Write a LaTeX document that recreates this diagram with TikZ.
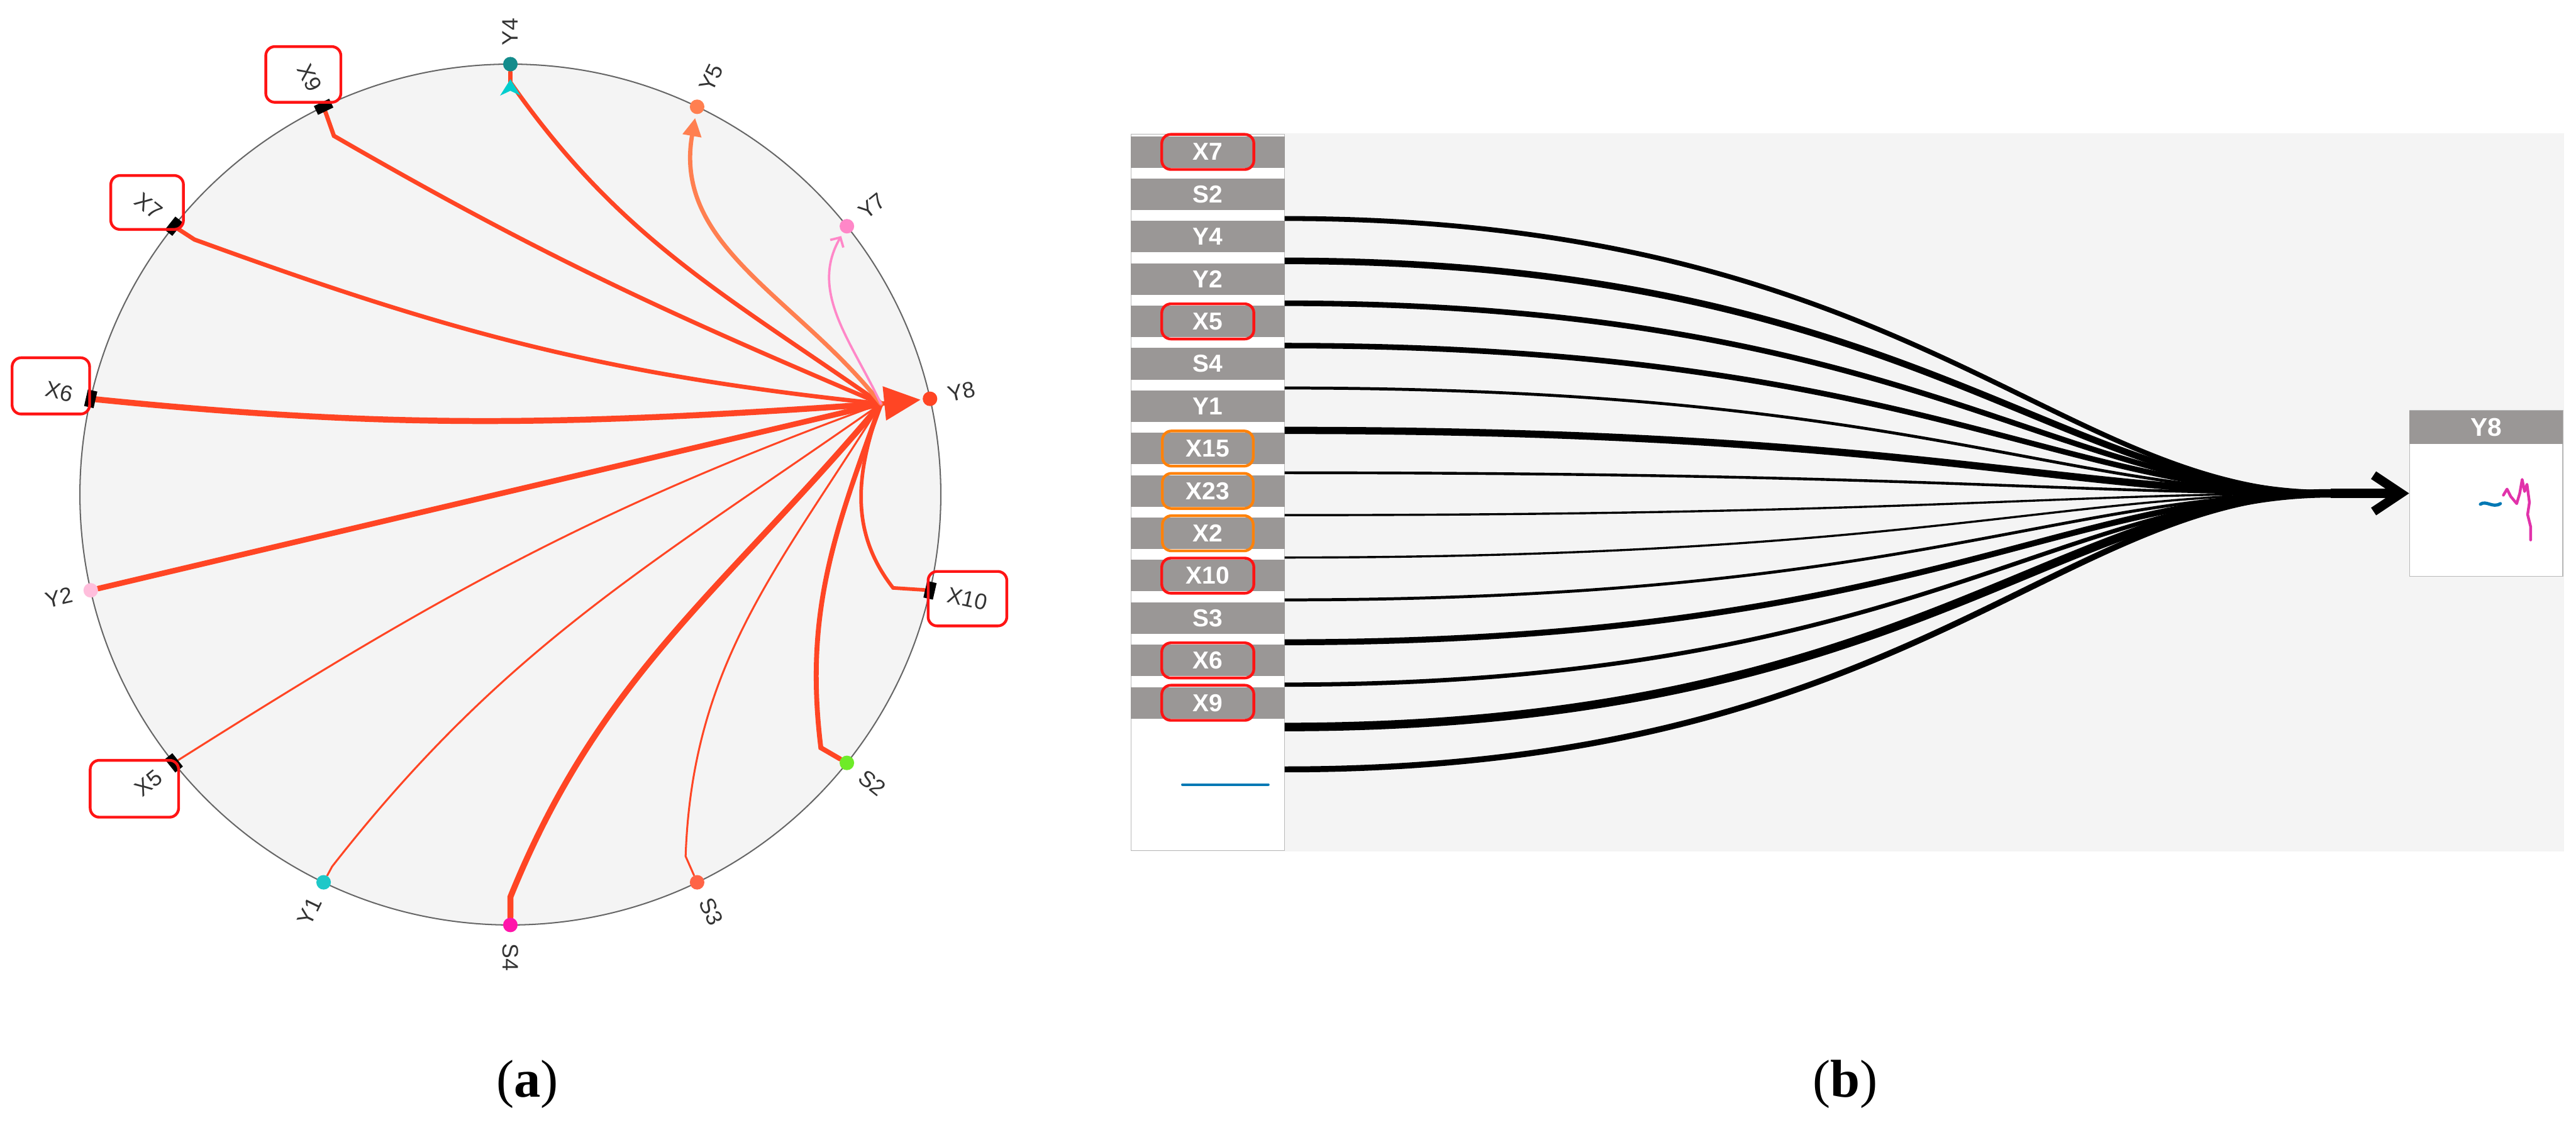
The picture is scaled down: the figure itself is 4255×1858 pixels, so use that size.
\documentclass[tikz,border=0pt]{standalone}
\usepackage{fontspec}
\setmainfont{Liberation Serif}
\newfontfamily\sansfont{Liberation Sans}
\usetikzlibrary{arrows.meta,backgrounds}

\definecolor{linkred}{RGB}{255,69,36}
\definecolor{circbg}{RGB}{244,244,244}
\definecolor{panelbg}{RGB}{244,244,244}
\definecolor{bargray}{RGB}{154,151,150}
\definecolor{colframe}{RGB}{185,185,185}
\definecolor{hlred}{RGB}{255,20,20}
\definecolor{hlorange}{RGB}{255,130,10}
\definecolor{cyfour}{RGB}{20,140,140}
\definecolor{tipcyan}{RGB}{0,205,205}
\definecolor{cyfive}{RGB}{255,127,80}
\definecolor{cyseven}{RGB}{255,135,200}
\definecolor{csii}{RGB}{110,235,40}
\definecolor{csiii}{RGB}{255,100,70}
\definecolor{csiv}{RGB}{255,20,170}
\definecolor{cyone}{RGB}{30,200,200}
\definecolor{cytwo}{RGB}{255,190,220}
\definecolor{sparkblue}{RGB}{0,120,180}
\definecolor{sparkpink}{RGB}{225,50,170}

\begin{document}
\begin{tikzpicture}[x=0.01cm, y=0.01cm, >=Stealth,
    dot/.style={circle, inner sep=0pt, minimum size=0.24cm},
    sq/.style={rectangle, fill=black, inner sep=0pt, minimum width=0.16cm, minimum height=0.28cm},
    lbl/.style={font=\sansfont\fontsize{10.5}{12}\selectfont, text=black!80, inner sep=0pt},
    link/.style={draw=linkred, line cap=round},
    hlbox/.style={draw=hlred, line width=1.3pt, rounded corners=0.15cm},
    bar/.style={fill=bargray, minimum width=2.54cm, minimum height=0.52cm, inner sep=0pt,
                text=white, font=\sansfont\bfseries\fontsize{11.5}{12}\selectfont},
    flow/.style={draw=black}]

    \useasboundingbox (0,0) rectangle (4255,1858);
    \begin{scope}[on background layer]
        \fill[white] (0,0) rectangle (4255,1858);
    \end{scope}

    % Pannello (a): grafo circolare
    \begin{scope}[shift={(843,1041)}]
        \begin{scope}[on background layer]
            \fill[circbg] (0,0) circle (711);
            \draw[black!60, line width=0.6pt] (0,0) circle (711);
        \end{scope}

        % Nodi colorati
        \foreach \n/\k/\c in {Y4/0/cyfour, Y5/1/cyfive, Y7/2/cyseven, Y8/3/linkred, S2/5/csii,
                              S3/6/csiii, S4/7/csiv, Y1/8/cyone, Y2/10/cytwo}
            \node[dot, fill=\c] (\n) at ({90-\k*360/14}:711) {};
        % Nodi quadrati
        \foreach \n/\k in {X10/4, X5/9, X6/11, X7/12, X9/13}
            \node[sq, rotate={90-\k*360/14}] (\n) at ({90-\k*360/14}:711) {};

        % Etichette radiali
        \foreach \n/\k in {Y4/0, Y5/1, Y7/2, Y8/3, X10/4, S2/5, S3/6, S4/7,
                           Y1/8, X5/9, Y2/10, X6/11, X7/12, X9/13} {
            \pgfmathsetmacro\a{90-\k*360/14}
            \ifnum\k<8
                \node[lbl, rotate=\a, anchor=west] at (\a:741) {\n};
            \else
                \pgfmathsetmacro\b{\a+180}
                \node[lbl, rotate=\b, anchor=east] at (\a:741) {\n};
            \fi
        }

        \coordinate (hub) at (612,150);

        % Archi verso Y8
        \begin{scope}[on background layer]
            \draw[link, line width=2pt] (X9) -- ++(17,-48) to[out=-30,in=157] (hub);
            \draw[link, line width=2pt] (Y4) -- ++(0,-30) to[out=-55,in=145] (hub);
            \draw[link, line width=2pt] (X7) -- ++(34,-22) to[out=-20,in=174] (hub);
            \draw[link, line width=2.8pt] (X6) to[out=-6,in=184] (hub);
            \draw[link, line width=2.6pt] (Y2) -- (hub);
            \draw[link, line width=0.9pt] (X5) to[out=33,in=200] (hub);
            \draw[link, line width=0.9pt] (Y1) -- ++(14,26) to[out=52,in=215] (hub);
            \draw[link, line width=2.8pt] (S4) -- ++(0,46) to[out=68,in=230] (hub);
            \draw[link, line width=0.9pt] (S3) -- ++(-19,43) to[out=88,in=238] (hub);
            \draw[link, line width=2.3pt] (S2) -- ++(-43,25) to[out=97,in=250] (hub);
            \draw[link, line width=1.7pt] (X10) -- ++(-61,4) to[out=128,in=250] (hub);
            \draw[link, line width=2pt, -{Triangle[length=0.6cm,width=0.55cm]},
                  shorten >=0.03cm] (hub) -- (Y8);
            % Archi uscenti
            \draw[link, draw=cyfive, line width=2pt, -{Triangle[length=0.3cm,width=0.3cm]},
                  shorten >=0.06cm] (hub) to[out=128,in=-100] (Y5);
            \draw[link, draw=cyseven, line width=1.1pt, -{Straight Barb[length=0.12cm,width=0.25cm]},
                  shorten >=0.06cm] (hub) to[out=115,in=-120] (Y7);
        \end{scope}

        % Punta ciano su Y4
        \fill[tipcyan] (0,686) -- (17,659) -- (0,667) -- (-17,659) -- cycle;
    \end{scope}

    % Pannello (b) e riquadri, in coordinate immagine
    \begin{scope}[shift={(0,1858)}, yscale=-1]
        % Riquadri rossi del pannello (a)
        \foreach \x/\y/\X/\Y in {439/77/563/169, 183/290/303/379, 20/591/148/684,
                                 1533/944/1663/1034, 149/1256/295/1350}
            \draw[hlbox] (\x,\y) rectangle (\X,\Y);

        % Sfondo e colonna
        \fill[panelbg] (1868,220) rectangle (4235,1407);
        \draw[colframe, fill=white] (1868,222) rectangle (2122,1405);
        \foreach \n [count=\i from 0] in {X7,S2,Y4,Y2,X5,S4,Y1,X15,X23,X2,X10,S3,X6,X9}
            \node[bar] (b\n) at (1995,{251+70*\i}) {\n};
        \draw[sparkblue, line width=1.2pt, line cap=round] (1953,1296) -- (2095,1296);

        % Evidenziazioni
        \foreach \n in {X7,X5,X10,X6,X9}
            \draw[hlbox] ([xshift=-0.76cm,yshift=-0.29cm]b\n.center) rectangle ([xshift=0.76cm,yshift=0.29cm]b\n.center);
        \foreach \n in {X15,X23,X2}
            \draw[hlbox, draw=hlorange] ([xshift=-0.75cm,yshift=-0.29cm]b\n.center) rectangle ([xshift=0.75cm,yshift=0.29cm]b\n.center);

        % Riquadro Y8
        \node[draw=colframe, fill=white, minimum width=2.53cm, minimum height=2.74cm,
              inner sep=0pt] (y8box) at (4106.5,815) {};
        \node[bar, minimum width=2.53cm, minimum height=0.55cm, anchor=north,
              font=\sansfont\bfseries\fontsize{12}{12}\selectfont] (y8head) at (y8box.north) {Y8};
        \draw[sparkblue, line width=1.5pt, line cap=round]
            (4097,833) .. controls (4107,826) and (4117,840) .. (4130,832);
        \draw[sparkpink, line width=1.3pt, line cap=round, line join=round]
            (4135,818) -- (4141,808) -- (4147,820) -- (4152,826) -- (4157,832) -- (4162,815)
            -- (4166,792) -- (4170,812) -- (4174,800) -- (4178,830) -- (4175,850)
            -- (4180,870) -- (4180,892);

        % Fascio di linee verso Y8
        \coordinate (hubb) at (3850,815);
        \foreach \k/\w in {0/2.3, 1/3.1, 2/2.6, 3/2.6, 4/1.4, 5/3.4, 6/1.3,
                           7/1.0, 8/1.0, 9/1.4, 10/2.8, 11/2.0, 12/4.0, 13/2.8} {
            \coordinate (s\k) at (2122,{361+70*\k});
            \draw[flow, line width=\w pt] (s\k) .. controls (3150,{361+70*\k}) and (3400,815) .. (hubb);
        }
        \draw[flow, line width=4.3pt, -{Straight Barb[length=0.45cm,width=0.6cm]}] (hubb) -- (y8box.west);

        % Didascalie
        \node[font=\fontsize{25}{30}\selectfont, anchor=base] (capa) at (871,1812) {(\textbf{a})};
        \node[font=\fontsize{25}{30}\selectfont, anchor=base] (capb) at (3048,1812) {(\textbf{b})};
    \end{scope}
\end{tikzpicture}
\end{document}
